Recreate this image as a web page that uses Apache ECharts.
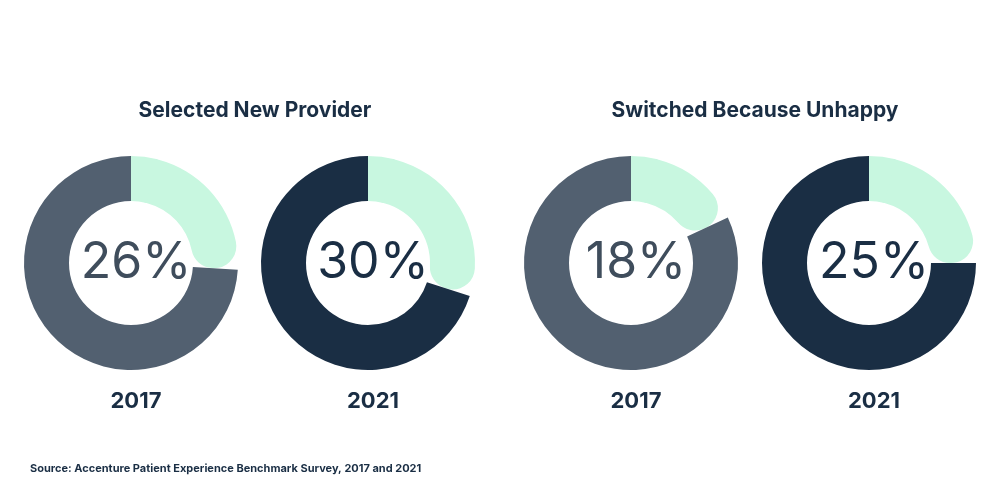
<!DOCTYPE html>
<html><head><meta charset="utf-8">
<script src="https://cdn.jsdelivr.net/npm/echarts@6/dist/echarts.min.js"></script>
<style>html,body{margin:0;background:#fff}#c{width:1000px;height:500px}</style>
</head><body><div id="c"></div>
<script>
// chart data
var groups = ['Selected New Provider', 'Switched Because Unhappy'];
var years = ['2017', '2021', '2017', '2021'];
var values = [26, 30, 18, 25];
var centersX = [131, 368, 631, 869];
var ringColors = ['#526070', '#1a2e44', '#526070', '#1a2e44'];
var light = '#c8f7e0';

var chart = echarts.init(document.getElementById('c'));
var series = [];
var titles = [
  {text: groups[0], left: 250, top: 95, textAlign: 'center', textStyle: {fontFamily: 'Inter', fontSize: 21, fontWeight: 'bold', color: '#1a2e44'}},
  {text: groups[1], left: 750, top: 95, textAlign: 'center', textStyle: {fontFamily: 'Inter', fontSize: 21, fontWeight: 'bold', color: '#1a2e44'}},
  {text: 'Source: Accenture Patient Experience Benchmark Survey, 2017 and 2021', left: 25, top: 458, textStyle: {fontFamily: 'Inter', fontSize: 11, fontWeight: 'bold', color: '#1a2e44'}}
];
values.forEach(function (v, i) {
  var c = [centersX[i], 263];
  series.push({
    type: 'pie', radius: [62, 107], center: c, silent: true, label: {show: false},
    startAngle: 90, clockwise: true,
    data: [
      {value: v, itemStyle: {color: light, borderRadius: 22}},
      {value: 100 - v, itemStyle: {color: ringColors[i]}}
    ]
  });
  series.push({
    type: 'pie', radius: [62, 107], center: c, silent: true, label: {show: false},
    startAngle: 90, clockwise: true,
    data: [
      {value: 4, itemStyle: {color: light}},
      {value: 96, itemStyle: {color: 'rgba(0,0,0,0)'}}
    ]
  });
  titles.push({text: v + '%', left: c[0], top: 233, textAlign: 'center',
    textStyle: {fontFamily: 'Inter', fontSize: 50, fontWeight: 'normal', color: i % 2 ? '#1a2e44' : '#3f4d5c'}});
  titles.push({text: years[i], left: c[0], top: 385, textAlign: 'center',
    textStyle: {fontFamily: 'Inter', fontSize: 22, fontWeight: 'bold', color: '#1a2e44'}});
});
chart.setOption({animation: false, title: titles, series: series});
</script></body></html>
